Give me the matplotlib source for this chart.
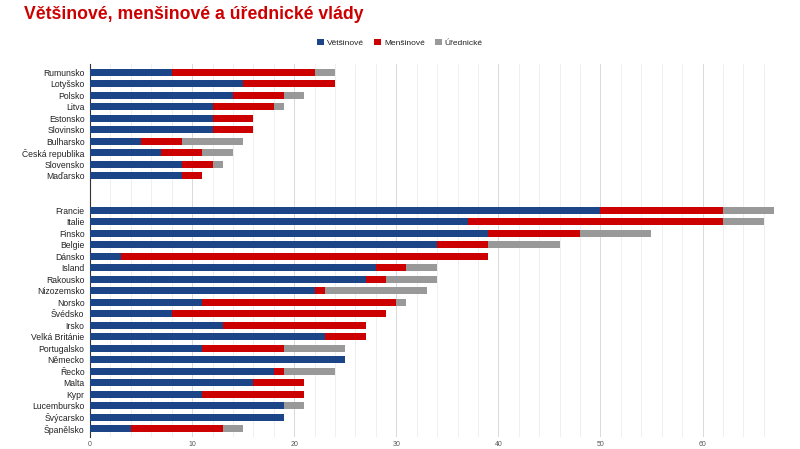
import matplotlib
matplotlib.use("Agg")
import matplotlib.pyplot as plt
from matplotlib.ticker import MultipleLocator
import numpy as np

plt.rcParams['font.family'] = ['Liberation Sans', 'DejaVu Sans']

countries = ["Rumunsko", "Lotyšsko", "Polsko", "Litva", "Estonsko", "Slovinsko",
             "Bulharsko", "Česká republika", "Slovensko", "Maďarsko", "", "",
             "Francie", "Italie", "Finsko", "Belgie", "Dánsko", "Island", "Rakousko",
             "Nizozemsko", "Norsko", "Švédsko", "Irsko", "Velká Británie",
             "Portugalsko", "Německo", "Řecko", "Malta", "Kypr", "Lucembursko",
             "Švýcarsko", "Španělsko"]
vetsinove = [8, 15, 14, 12, 12, 12, 5, 7, 9, 9, 0, 0,
             50, 37, 39, 34, 3, 28, 27, 22, 11, 8, 13, 23, 11, 25, 18, 16, 11, 19, 19, 4]
mensinove = [14, 9, 5, 6, 4, 4, 4, 4, 3, 2, 0, 0,
             12, 25, 9, 5, 36, 3, 2, 1, 19, 21, 14, 4, 8, 0, 1, 5, 10, 0, 0, 9]
urednicke = [2, 0, 2, 1, 0, 0, 6, 3, 1, 0, 0, 0,
             5, 4, 7, 7, 0, 3, 5, 10, 1, 0, 0, 0, 6, 0, 5, 0, 0, 2, 0, 2]
series_names = ["Většinové", "Menšinové", "Úřednické"]
colors = ["#1c4587", "#cc0000", "#999999"]

fig = plt.figure(figsize=(8, 4.49), dpi=100)
ax = fig.add_axes([0.1125, 0.027, 0.855, 0.830])

y = np.arange(len(countries))
v = np.array(vetsinove); m = np.array(mensinove); u = np.array(urednicke)
h = 0.62
ax.barh(y, v, height=h, color=colors[0], label=series_names[0], zorder=3)
ax.barh(y, m, left=v, height=h, color=colors[1], label=series_names[1], zorder=3)
ax.barh(y, u, left=v + m, height=h, color=colors[2], label=series_names[2], zorder=3)

ax.set_yticks(y)
ax.set_yticklabels(countries, fontsize=6.2, color="#222222")
ax.set_ylim(len(countries) - 0.3, -0.7)
ax.set_xlim(0, 67)
ax.xaxis.set_major_locator(MultipleLocator(10))
ax.xaxis.set_minor_locator(MultipleLocator(2))
ax.grid(axis='x', which='major', color="#d9d9d9", lw=0.7, zorder=0)
ax.grid(axis='x', which='minor', color="#ececec", lw=0.6, zorder=0)
ax.tick_params(axis='x', which='both', length=0, labelsize=5, labelcolor="#555555", pad=3)
ax.tick_params(axis='y', length=0, pad=4)
for s in ["top", "right", "bottom"]:
    ax.spines[s].set_visible(False)
ax.spines["left"].set_color("#333333")
ax.spines["left"].set_linewidth(0.8)

fig.text(0.03, 0.968, "Většinové, menšinové a úřednické vlády", color="#cc0000",
         fontsize=12.7, fontweight="bold", ha="left", va="center")
fig.legend(loc="center", bbox_to_anchor=(0.5, 0.904), ncol=3, frameon=False,
           fontsize=6, handlelength=0.8, handleheight=0.8, handletextpad=0.4,
           columnspacing=1.2, labelcolor="#222222")

fig.savefig("out.png", dpi=100)
